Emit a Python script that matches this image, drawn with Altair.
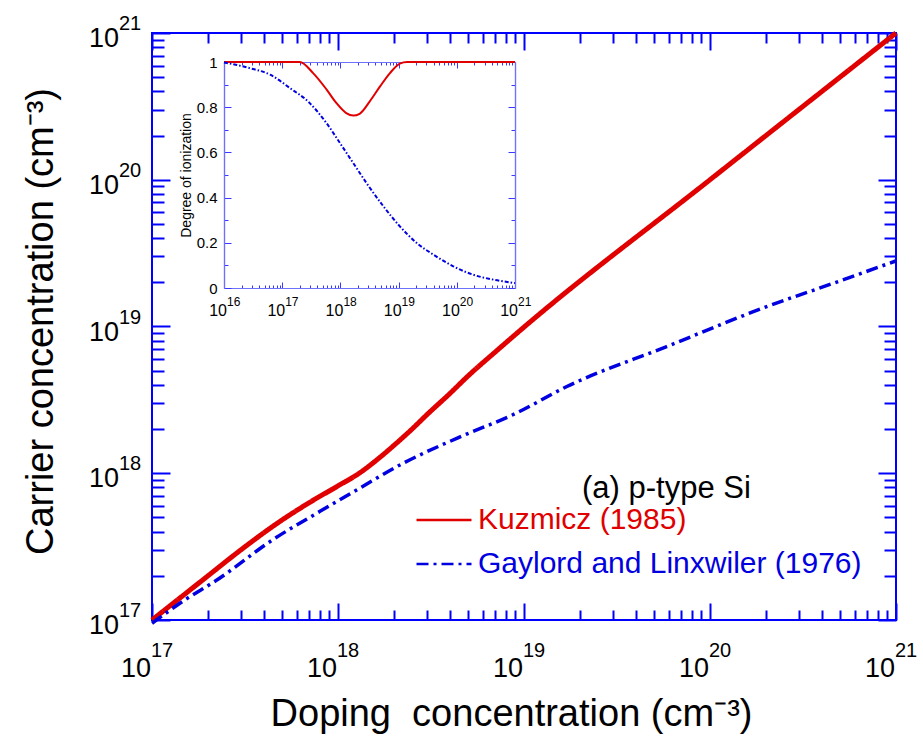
import altair as alt
import pandas as pd

# ---------------- data ----------------
SERIES = ["Kuzmicz (1985)", "Gaylord and Linxwiler (1976)"]

# main panel: carrier concentration vs doping concentration (cm^-3)
red_N = [1e17, 1.5e17, 2e17, 3e17, 5e17, 7e17, 1e18, 1.3e18, 1.6e18, 2e18, 2.5e18,
         3e18, 4e18, 5e18, 7e18, 1e19, 1e20, 1e21]
red_p = [1e17, 1.5e17, 2e17, 3e17, 4.8e17, 6.3e17, 8.2e17, 1.0e18, 1.22e18, 1.55e18,
         2.0e18, 2.5e18, 3.5e18, 4.6e18, 6.7e18, 9.9e18, 1e20, 1e21]
blue_N = [1e17, 1.5e17, 2.2e17, 4.5e17, 8e17, 1.26e18, 2.24e18, 4.35e18, 9.1e18,
          1.7e19, 5.85e19, 2.0e20, 4.6e20, 1e21]
blue_p = [0.95e17, 1.37e17, 1.85e17, 3.55e17, 5.5e17, 7.7e17, 1.17e18, 1.73e18, 2.57e18,
          3.9e18, 7.3e18, 1.36e19, 1.97e19, 2.8e19]

# inset: degree of ionization vs doping
ired_N = [1e16, 1e17, 2e17, 3.4e17, 5.8e17, 8.5e17, 1.26e18, 1.66e18, 2.14e18, 3.2e18,
          4.8e18, 7.1e18, 1.05e19, 1.4e19, 1e20, 1e21]
ired_f = [1.0, 1.0, 1.0, 0.951, 0.878, 0.819, 0.774, 0.763, 0.771, 0.826, 0.892, 0.951,
          0.993, 1.0, 1.0, 1.0]
iblue_N = [1e16, 2.75e16, 6.2e16, 1.35e17, 2.95e17, 5.75e17, 9.8e17, 1.66e18, 2.8e18,
           5.5e18, 1.05e19, 2.05e19, 4e19, 8.7e19, 1.9e20, 4.25e20, 1e21]
iblue_f = [0.998, 0.973, 0.944, 0.885, 0.819, 0.730, 0.642, 0.553, 0.465, 0.361, 0.273,
           0.199, 0.147, 0.096, 0.059, 0.037, 0.022]

# ticks / tick labels
main_major = [1e17, 1e18, 1e19, 1e20, 1e21]
main_exp = ["17", "18", "19", "20", "21"]
main_minor = [m * 10.0 ** e for e in range(17, 21) for m in range(2, 10)]
inset_major_x = [1e16, 1e17, 1e18, 1e19, 1e20, 1e21]
inset_exp = ["16", "17", "18", "19", "20", "21"]
inset_minor_x = [m * 10.0 ** e for e in range(16, 21) for m in range(2, 10)]
inset_major_y = [0, 0.2, 0.4, 0.6, 0.8, 1]
inset_minor_y = [0.1, 0.3, 0.5, 0.7, 0.9]

# ---------------- style ----------------
F = "Liberation Sans"
W, H = 744, 587
RED = "#e00000"
BLUE = "#0000e0"
FRAME = "#0000ff"
IFRAME = "#7070ff"
ITICK = "#3a3aff"
# inset placement inside the plot area (pixels)
IX0, IX1, IY0, IY1 = 72, 363, 255, 29

df_red = pd.DataFrame({"N": red_N, "p": red_p, "series": SERIES[0]})
df_blue = pd.DataFrame({"N": blue_N, "p": blue_p, "series": SERIES[1]})
df_ired = pd.DataFrame({"N": ired_N, "f": ired_f})
df_iblue = pd.DataFrame({"N": iblue_N, "f": iblue_f})
df_xlab = pd.DataFrame({"v": main_major, "base": ["10"] * len(main_major), "exp": main_exp})
df_ixlab = pd.DataFrame({"v": inset_major_x, "base": ["10"] * len(inset_major_x), "exp": inset_exp})
df_note = pd.DataFrame({"t": ["(a) p-type Si"]})

MX = alt.Scale(type="log", domain=[1e17, 1e21], nice=False)
MY = alt.Scale(type="log", domain=[1e17, 1e21], nice=False)
IXS = alt.Scale(type="log", domain=[1e16, 1e21], range=[IX0, IX1], nice=False)
IYS = alt.Scale(type="linear", domain=[0, 1], range=[IY0, IY1], nice=False, zero=False)


def tick_axis(orient, values, size, color, width, **kw):
    d = dict(orient=orient, values=values, labels=False, domain=False, grid=False,
             ticks=True, tickSize={"expr": str(-size)}, tickColor=color,
             tickWidth=width, title=None)
    d.update(kw)
    return alt.Axis(**d)


legend = alt.Legend(orient="none", legendX=263, legendY=458, title=None, padding=0,
                    labelFont=F, labelFontSize=30, labelLimit=0, labelOffset=5,
                    symbolType="stroke", symbolSize=3025, symbolStrokeWidth=2.5,
                    rowPadding=0,
                    labelColor={"expr": f"datum.value === '{SERIES[0]}' ? '{RED}' : '{BLUE}'"})
color = alt.Color("series:N", scale=alt.Scale(domain=SERIES, range=[RED, BLUE]), legend=legend)
dash = alt.StrokeDash("series:N", scale=alt.Scale(domain=SERIES, range=[[1, 0], [12, 5, 3, 5]]),
                      legend=legend)

x_title_axis = tick_axis("bottom", main_major, 17, FRAME, 2,
                         title="Doping \u00a0concentration (cm\u207b\u00b3)",
                         titleFont=F, titleFontSize=38, titleFontWeight="normal",
                         titleColor="black", titleBaseline="alphabetic",
                         titleX=359, titleY=105, titleAlign="center")
y_title_axis = tick_axis("left", main_major, 18, FRAME, 2,
                         title="Carrier concentration (cm\u207b\u00b3)",
                         titleFont=F, titleFontSize=38, titleFontWeight="normal",
                         titleColor="black", titleBaseline="alphabetic", titleAngle=-90,
                         titleX=-100, titleY=288, titleAlign="center")

red = alt.Chart(df_red).mark_line(strokeWidth=5, interpolate="monotone").encode(
    x=alt.X("N:Q", scale=MX, axis=x_title_axis),
    y=alt.Y("p:Q", scale=MY, axis=y_title_axis),
    color=color, strokeDash=dash,
)
blue = alt.Chart(df_blue).mark_line(strokeWidth=3.5, interpolate="monotone").encode(
    x=alt.X("N:Q", scale=MX, axis=tick_axis("bottom", main_minor, 10, FRAME, 2)),
    y=alt.Y("p:Q", scale=MY, axis=tick_axis("left", main_minor, 12, FRAME, 2)),
    color=color, strokeDash=dash,
)
inv1 = alt.Chart(df_red).mark_point(opacity=0).encode(
    x=alt.X("N:Q", scale=MX, axis=tick_axis("top", main_major, 17, FRAME, 2)),
    y=alt.Y("p:Q", scale=MY, axis=tick_axis("right", main_major, 18, FRAME, 2)),
)
inv2 = alt.Chart(df_red).mark_point(opacity=0).encode(
    x=alt.X("N:Q", scale=MX, axis=tick_axis("top", main_minor, 10, FRAME, 2)),
    y=alt.Y("p:Q", scale=MY, axis=tick_axis("right", main_minor, 12, FRAME, 2)),
)
xlab_base = alt.Chart(df_xlab).mark_text(align="right", baseline="alphabetic", font=F,
                                         fontSize=27, dx=-1, color="black").encode(
    x=alt.X("v:Q", scale=MX, axis=None), y=alt.value(H + 57), text="base:N")
xlab_exp = alt.Chart(df_xlab).mark_text(align="left", baseline="alphabetic", font=F,
                                        fontSize=20, dx=-1, color="black").encode(
    x=alt.X("v:Q", scale=MX, axis=None), y=alt.value(H + 37), text="exp:N")
ylab_base = alt.Chart(df_xlab).mark_text(align="right", baseline="alphabetic", font=F,
                                         fontSize=27, dy=14, color="black").encode(
    y=alt.Y("v:Q", scale=MY, axis=None), x=alt.value(-33), text="base:N")
ylab_exp = alt.Chart(df_xlab).mark_text(align="left", baseline="alphabetic", font=F,
                                        fontSize=20, dy=-3, color="black").encode(
    y=alt.Y("v:Q", scale=MY, axis=None), x=alt.value(-33), text="exp:N")
note = alt.Chart(df_note).mark_text(align="left", baseline="alphabetic", font=F,
                                    fontSize=31, color="black").encode(
    x=alt.value(430), y=alt.value(465), text="t:N")

main = alt.layer(red, blue, inv1, inv2, xlab_base, xlab_exp, ylab_base, ylab_exp,
                 note).resolve_axis(x="independent", y="independent")

# ---------------- inset ----------------
def inset_axis(orient, values, size, offset, **kw):
    d = dict(orient=orient, values=values, labels=False, domain=True, domainColor=IFRAME,
             domainWidth=1.2, grid=False, ticks=True, tickSize={"expr": str(-size)},
             tickColor=ITICK, tickWidth=1, title=None, offset=offset)
    d.update(kw)
    return alt.Axis(**d)


iy_main_axis = inset_axis("left", inset_major_y, 7, -IX0, labels=True, format="~g",
                          labelFont=F, labelFontSize=15, labelColor="black",
                          labelPadding=14, title="Degree of ionization",
                          titleFont=F, titleFontSize=14, titleFontWeight="normal",
                          titleColor="black", titlePadding=3)

ired = alt.Chart(df_ired).mark_line(strokeWidth=2, color=RED, interpolate="monotone").encode(
    x=alt.X("N:Q", scale=IXS, axis=inset_axis("bottom", inset_major_x, 6, IY0 - H)),
    y=alt.Y("f:Q", scale=IYS, axis=iy_main_axis),
)
iblue = alt.Chart(df_iblue).mark_line(strokeWidth=2, color=BLUE, strokeDash=[4, 2, 1.5, 2],
                                      interpolate="monotone").encode(
    x=alt.X("N:Q", scale=IXS, axis=inset_axis("bottom", inset_minor_x, 3, IY0 - H)),
    y=alt.Y("f:Q", scale=IYS, axis=inset_axis("left", inset_minor_y, 4, -IX0)),
)
iinv1 = alt.Chart(df_ired).mark_point(opacity=0).encode(
    x=alt.X("N:Q", scale=IXS, axis=inset_axis("top", inset_major_x, 6, -IY1)),
    y=alt.Y("f:Q", scale=IYS, axis=inset_axis("right", inset_major_y, 7, IX1 - W)),
)
iinv2 = alt.Chart(df_ired).mark_point(opacity=0).encode(
    x=alt.X("N:Q", scale=IXS, axis=inset_axis("top", inset_minor_x, 3, -IY1)),
    y=alt.Y("f:Q", scale=IYS, axis=inset_axis("right", inset_minor_y, 4, IX1 - W)),
)
ixlab_base = alt.Chart(df_ixlab).mark_text(align="right", baseline="alphabetic", font=F,
                                           fontSize=16, dx=3, color="black").encode(
    x=alt.X("v:Q", scale=IXS, axis=None), y=alt.value(IY0 + 28), text="base:N")
ixlab_exp = alt.Chart(df_ixlab).mark_text(align="left", baseline="alphabetic", font=F,
                                          fontSize=12, dx=3, color="black").encode(
    x=alt.X("v:Q", scale=IXS, axis=None), y=alt.value(IY0 + 18), text="exp:N")

inset = alt.layer(ired, iblue, iinv1, iinv2, ixlab_base, ixlab_exp).resolve_axis(
    x="independent", y="independent")

chart = alt.layer(main, inset).resolve_scale(
    x="independent", y="independent"
).properties(
    width=W, height=H,
    padding={"left": 152, "top": 33, "right": 27, "bottom": 118},
    autosize=alt.AutoSizeParams(type="none"),
    background="white",
).configure_view(stroke=FRAME, strokeWidth=2)

chart.save("out.html", embed_options={"renderer": "svg", "actions": False})
